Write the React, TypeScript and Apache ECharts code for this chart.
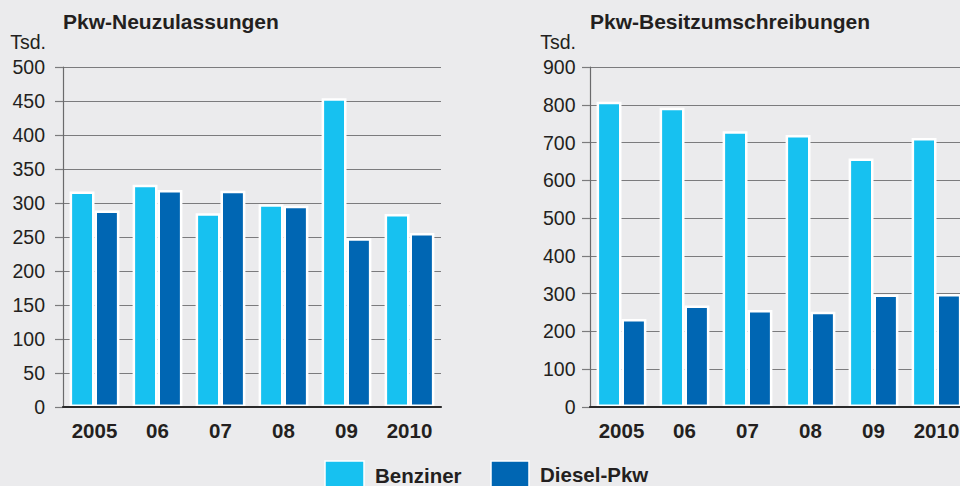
import React, { useEffect, useRef } from "react";
import * as echarts from "echarts";

const years = ["2005", "06", "07", "08", "09", "2010"];
const neuBenziner = [317, 327, 285, 298, 454, 284];
const neuDiesel = [289, 319, 318, 296, 248, 256];
const besBenziner = [808, 792, 730, 720, 658, 712];
const besDiesel = [233, 269, 257, 252, 298, 299];
const neuTicks = { min: 0, max: 500, interval: 50 };
const besTicks = { min: 0, max: 900, interval: 100 };
const titles = ["Pkw-Neuzulassungen", "Pkw-Besitzumschreibungen"];
const unitLabel = "Tsd.";
const seriesNames = ["Benziner", "Diesel-Pkw"];

const FONT = "'Liberation Sans', Arial, Helvetica, sans-serif";
const C_BENZ = "#17c1f0";
const C_DIES = "#0066b3";
const C_TEXT = "#231f20";
const C_GRID = "#7b7b7d";
const BG = "#ebebed";

export default function App() {
  const ref = useRef<HTMLDivElement>(null);
  useEffect(() => {
    if (!ref.current) return;
    const chart = echarts.init(ref.current, null, { renderer: "svg" });

    const yAxisBase = (ticks: any, grid: number, margin: number) => ({
      type: "value",
      gridIndex: grid,
      min: ticks.min,
      max: ticks.max,
      interval: ticks.interval,
      axisLine: { show: true, lineStyle: { color: "#6a6a6c", width: 1.2 } },
      axisTick: { show: true, length: 8, lineStyle: { color: C_GRID, width: 1.2 } },
      splitLine: { show: true, lineStyle: { color: C_GRID, width: 1.2 } },
      axisLabel: { fontFamily: FONT, fontSize: 19.5, color: C_TEXT, margin },
    });
    const xAxisBase = (grid: number) => ({
      type: "category",
      gridIndex: grid,
      data: years,
      z: 10,
      axisLine: { show: true, lineStyle: { color: "#2a2a2a", width: 2.2 } },
      axisTick: { show: false },
      axisLabel: {
        fontFamily: FONT,
        fontSize: 20.5,
        fontWeight: "bold",
        color: C_TEXT,
        margin: 13,
        interval: 0,
      },
    });
    const barBase = (name: string, data: number[], idx: number, color: string) => ({
      type: "bar",
      name,
      data,
      xAxisIndex: idx,
      yAxisIndex: idx,
      barGap: "0%",
      barCategoryGap: "21%",
      itemStyle: { color, borderColor: "#ffffff", borderWidth: 2.5 },
    });

    const textEl = (text: string, x: number, y: number, opts: any = {}) => ({
      type: "text",
      x,
      y,
      style: {
        text,
        fontFamily: FONT,
        fontSize: opts.size ?? 20.5,
        fontWeight: opts.bold === false ? "normal" : "bold",
        fill: C_TEXT,
        align: opts.align ?? "left",
        verticalAlign: "top",
      },
    });

    chart.setOption({
      animation: false,
      backgroundColor: BG,
      grid: [
        { left: 63, top: 67, width: 378, height: 340 },
        { left: 590, top: 67, width: 378, height: 340 },
      ],
      xAxis: [xAxisBase(0), xAxisBase(1)],
      yAxis: [yAxisBase(neuTicks, 0, 18), yAxisBase(besTicks, 1, 14.5)],
      series: [
        barBase(seriesNames[0], neuBenziner, 0, C_BENZ),
        barBase(seriesNames[1], neuDiesel, 0, C_DIES),
        barBase(seriesNames[0], besBenziner, 1, C_BENZ),
        barBase(seriesNames[1], besDiesel, 1, C_DIES),
      ],
      graphic: [
        textEl(titles[0], 63, 10.5, { size: 21 }),
        textEl(titles[1], 590, 10.5, { size: 21 }),
        textEl(unitLabel, 46, 32, { bold: false, size: 19.5, align: "right" }),
        textEl(unitLabel, 576, 32, { bold: false, size: 19.5, align: "right" }),
        {
          type: "rect",
          shape: { x: 325, y: 461, width: 39, height: 32 },
          style: { fill: C_BENZ, stroke: "#ffffff", lineWidth: 1.5 },
        },
        textEl(seriesNames[0], 375, 465),
        {
          type: "rect",
          shape: { x: 491, y: 461, width: 38, height: 32 },
          style: { fill: C_DIES, stroke: "#ffffff", lineWidth: 1.5 },
        },
        textEl(seriesNames[1], 540, 463.5),
      ],
    });
    return () => chart.dispose();
  }, []);
  return (
    <div
      style={{
        position: "absolute",
        left: 0,
        top: 0,
        width: 960,
        height: 486,
        overflow: "hidden",
        background: BG,
      }}
    >
      <div ref={ref} style={{ width: 980, height: 486 }} />
    </div>
  );
}
